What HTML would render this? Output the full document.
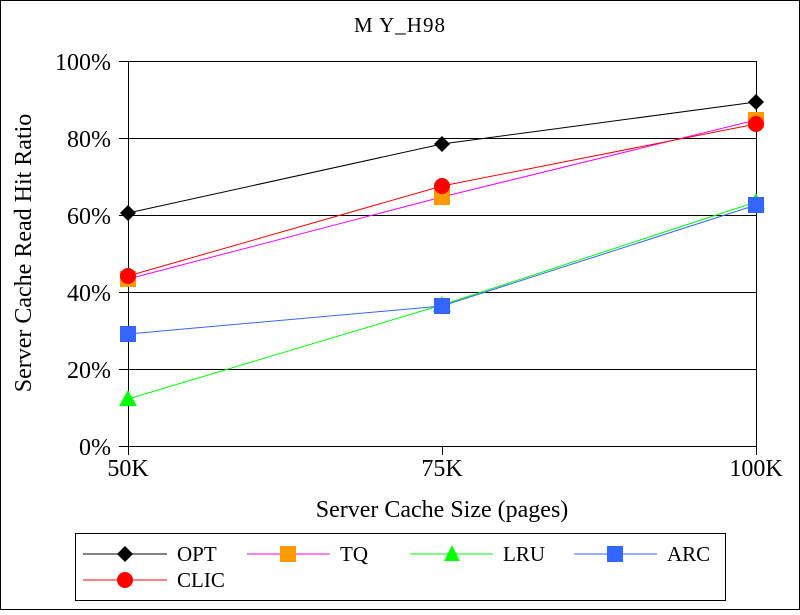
<!DOCTYPE html>
<html><head><style>body{margin:0;background:#fff}</style></head><body>
<svg width="800" height="610" xmlns="http://www.w3.org/2000/svg" font-family="Liberation Serif, serif">
<rect x="0.5" y="0.5" width="799" height="609" fill="#fff" stroke="#000"/>
<text x="400" y="32" font-size="21" text-anchor="middle" letter-spacing="1">M Y_H98</text>
<g stroke="#000" stroke-width="1">
<line x1="119" y1="61.5" x2="756" y2="61.5"/>
<line x1="119" y1="138.5" x2="756" y2="138.5"/>
<line x1="119" y1="215.5" x2="756" y2="215.5"/>
<line x1="119" y1="292.5" x2="756" y2="292.5"/>
<line x1="119" y1="369.5" x2="756" y2="369.5"/>
<line x1="119" y1="446.5" x2="756" y2="446.5"/>
<line x1="128.5" y1="61" x2="128.5" y2="455"/>
<line x1="756.5" y1="61" x2="756.5" y2="455"/>
<line x1="442.5" y1="447" x2="442.5" y2="455"/>
</g>
<g font-size="24" text-anchor="end">
<text x="111" y="70">100%</text><text x="111" y="147">80%</text><text x="111" y="224">60%</text>
<text x="111" y="301">40%</text><text x="111" y="378">20%</text><text x="111" y="455">0%</text>
</g>
<g font-size="24" text-anchor="middle">
<text x="128" y="476">50K</text><text x="442" y="476">75K</text><text x="756" y="476">100K</text>
</g>
<text x="442" y="517" font-size="24" text-anchor="middle">Server Cache Size (pages)</text>
<text transform="translate(31,253) rotate(-90)" font-size="24" text-anchor="middle">Server Cache Read Hit Ratio</text>
<g fill="none">
<polyline points="128,213 442,144 756,102" stroke="#000"/>
<polyline points="128,279 442,197 756,120" stroke="#f0f"/>
<polyline points="128,399 442,305 756,202" stroke="#0f0"/>
<polyline points="128,334 442,306 756,205" stroke="#3366ff"/>
<polyline points="128,276 442,186 756,124" stroke="#f00"/>
</g>
<g fill="#f90"><rect x="120" y="271" width="16" height="16"/><rect x="434" y="189" width="16" height="16"/><rect x="748" y="112" width="16" height="16"/></g>
<g fill="#0f0"><polygon points="128,390 137,406 119,406"/><polygon points="442,296 451,312 433,312"/><polygon points="756,193 765,209 747,209"/></g>
<g fill="#3366ff"><rect x="120" y="326" width="16" height="16"/><rect x="434" y="298" width="16" height="16"/><rect x="748" y="197" width="16" height="16"/></g>
<g fill="#f00"><circle cx="128" cy="276" r="8"/><circle cx="442" cy="186" r="8"/><circle cx="756" cy="124" r="8"/></g>
<g fill="#000"><polygon points="128,205 136,213 128,221 120,213"/><polygon points="442,136 450,144 442,152 434,144"/><polygon points="756,94 764,102 756,110 748,102"/></g>
<rect x="75.5" y="533.5" width="650" height="67" fill="none" stroke="#000"/>
<g font-size="21">
<line x1="83" y1="554" x2="167" y2="554" stroke="#000"/><polygon points="125,546 133,554 125,562 117,554"/><text x="177" y="561">OPT</text>
<line x1="247" y1="554" x2="330" y2="554" stroke="#f0f"/><rect x="280" y="546" width="16" height="16" fill="#f90"/><text x="340" y="561">TQ</text>
<line x1="410" y1="554" x2="493" y2="554" stroke="#0f0"/><polygon points="452,545 460,561 444,561" fill="#0f0"/><text x="503" y="561">LRU</text>
<line x1="574" y1="554" x2="657" y2="554" stroke="#3366ff"/><rect x="607" y="546" width="16" height="16" fill="#3366ff"/><text x="667" y="561">ARC</text>
<line x1="83" y1="580" x2="167" y2="580" stroke="#f00"/><circle cx="125" cy="580" r="8" fill="#f00"/><text x="177" y="587">CLIC</text>
</g>
</svg>
</body></html>
